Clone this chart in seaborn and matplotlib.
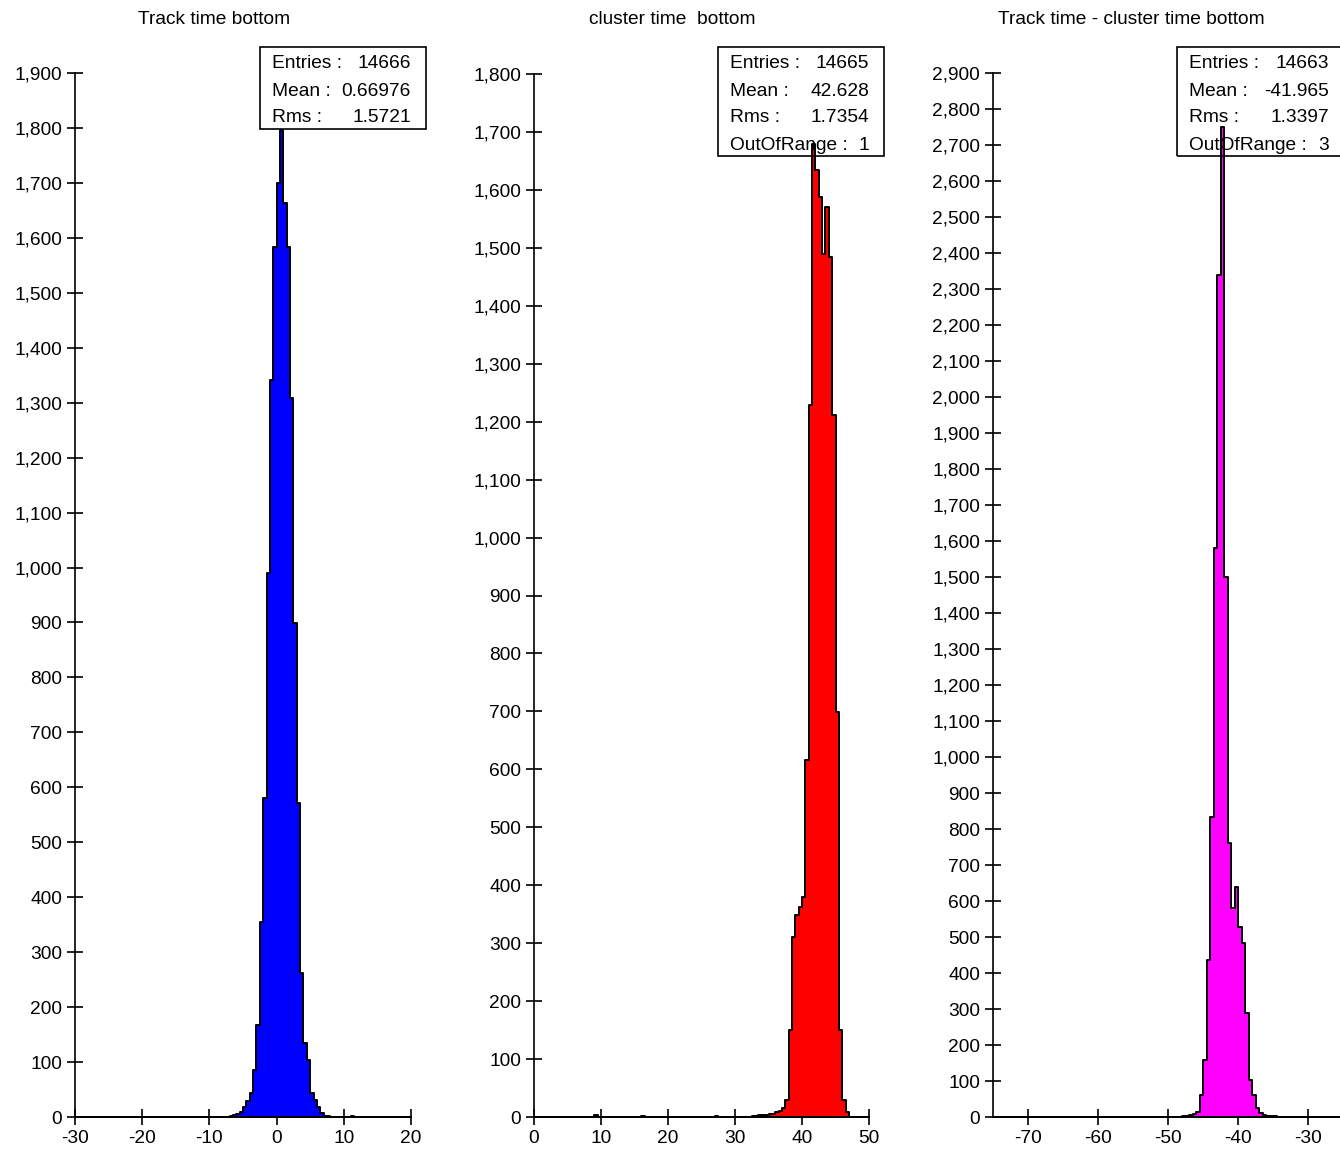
import numpy as np
import pandas as pd
import matplotlib
matplotlib.use("Agg")
import matplotlib.pyplot as plt
import seaborn as sns
from matplotlib.ticker import FuncFormatter, MultipleLocator
from matplotlib.patches import Rectangle

# ---------------- data (bin width 0.5) ----------------
BIN_W = 0.5

# Panel 1: Track time bottom
track_start = -7.0
track_counts = [2, 3, 5, 10, 18, 30, 44, 86, 167, 355, 580, 990, 1341, 1583,
                1700, 1796, 1663, 1583, 1308, 899, 571, 262, 135, 104, 44, 31,
                18, 8, 2, 1]
track_extra_x = [11.25]
track_extra_n = [1]

# Panel 2: cluster time bottom
clus_start = 33.0
clus_counts = [2, 3, 3, 4, 5, 6, 8, 10, 15, 29, 150, 311, 349, 362, 380, 616,
               1229, 1680, 1634, 1588, 1490, 1570, 1484, 1212, 699, 150, 29, 8]
clus_extra_x = [9.25, 16.25, 27.25, 32.75]
clus_extra_n = [3, 2, 2, 1]

# Panel 3: Track time - cluster time bottom
diff_start = -48.0
diff_counts = [2, 3, 5, 8, 14, 61, 158, 436, 833, 1580, 2340, 2750, 1500, 760,
               580, 640, 528, 483, 289, 103, 61, 25, 10, 5, 4, 3, 2, 1]
diff_extra_x = [-33.75]
diff_extra_n = [1]

titles = ["Track time bottom", "cluster time  bottom", "Track time - cluster time bottom"]
stat_labels = ["Entries :", "Mean :", "Rms :", "OutOfRange :"]
stats = [["14666", "0.66976", "1.5721"],
         ["14665", "42.628", "1.7354", "1"],
         ["14663", "-41.965", "1.3397", "3"]]
colors = ["#0000FF", "#FF0000", "#FF00FF"]
xlims = [(-30, 20), (0, 50), (-75, -25)]
ymaxs = [1900, 1800, 2900]


def make_df(start, counts, ex_x, ex_n):
    centers = [start + BIN_W * (i + 0.5) for i in range(len(counts))]
    return pd.DataFrame({"x": centers + list(ex_x), "w": list(counts) + list(ex_n)})


dfs = [make_df(track_start, track_counts, track_extra_x, track_extra_n),
       make_df(clus_start, clus_counts, clus_extra_x, clus_extra_n),
       make_df(diff_start, diff_counts, diff_extra_x, diff_extra_n)]

# ---------------- figure ----------------
sns.set_style("ticks")
plt.rcParams["font.family"] = ["Liberation Sans", "DejaVu Sans"]
plt.rcParams["axes.unicode_minus"] = False
plt.rcParams["text.color"] = "black"
plt.rcParams["xtick.color"] = "black"
plt.rcParams["ytick.color"] = "black"

W, H = 1340, 1153
fig = plt.figure(figsize=(W / 100, H / 100), dpi=100)

# axes rectangles in pixel coords: left, right, top, bottom
boxes = [(75, 411, 73, 1117), (534, 869, 74, 1117), (993, 1343, 73, 1117)]
fs = 13.8

for i, (l, r, t, b) in enumerate(boxes):
    ax = fig.add_axes([l / W, 1 - b / H, (r - l) / W, (b - t) / H])
    lo, hi = xlims[i]
    sns.histplot(data=dfs[i], x="x", weights="w", binwidth=BIN_W,
                 binrange=(lo, hi), element="step",
                 fill=True, color=colors[i], edgecolor="black", linewidth=1.4,
                 alpha=1, ax=ax)
    ax.set_xlim(lo, hi)
    ax.set_ylim(0, ymaxs[i])
    ax.set_xlabel("")
    ax.set_ylabel("")
    ax.set_facecolor("none")
    for s in ["top", "right"]:
        ax.spines[s].set_visible(False)
    for s in ["left", "bottom"]:
        ax.spines[s].set_color("black")
        ax.spines[s].set_linewidth(1.2)
    ax.xaxis.set_major_locator(MultipleLocator(10))
    ax.yaxis.set_major_locator(MultipleLocator(100))
    ax.yaxis.set_major_formatter(FuncFormatter(lambda v, p: f"{int(round(v)):,}"))
    ax.tick_params(direction="inout", length=12, width=1.2, colors="black",
                   labelcolor="black", labelsize=fs, pad=3.2,
                   bottom=True, left=True, top=False, right=False)

# titles
title_x = [214, 672, 1131]
for tx, tt in zip(title_x, titles):
    fig.text(tx / W, 1 - 19 / H, tt, ha="center", va="center", fontsize=fs)

# stats boxes
stat_boxes = [(260, 426, 47, 129, 272, 411),
              (718, 884, 47, 156, 730, 869),
              (1177, 1345, 47, 156, 1189, 1329)]
for k, (l, r, t, b, tl, tr) in enumerate(stat_boxes):
    fig.patches.append(Rectangle((l / W, 1 - b / H), (r - l) / W, (b - t) / H,
                                 transform=fig.transFigure, fill=False,
                                 edgecolor="black", linewidth=1.2))
    for j, val in enumerate(stats[k]):
        y = 64 + 27 * j
        fig.text(tl / W, 1 - y / H, stat_labels[j], ha="left", va="center", fontsize=fs)
        fig.text(tr / W, 1 - y / H, val, ha="right", va="center", fontsize=fs)

fig.savefig("out.png", dpi=100)
